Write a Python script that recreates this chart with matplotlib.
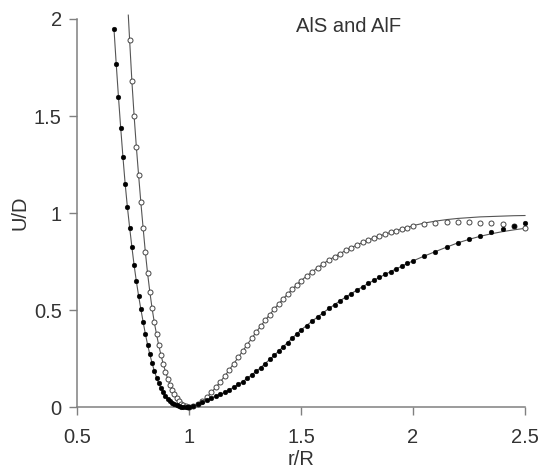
import matplotlib
matplotlib.use("Agg")
import matplotlib.pyplot as plt

plt.rcParams['font.family'] = ['Liberation Sans', 'DejaVu Sans']

# ---- data ----
# AlS (filled dots)
als_r = [0.665, 0.675, 0.685, 0.695, 0.705, 0.715, 0.725, 0.735, 0.745, 0.755,
         0.765, 0.775, 0.785, 0.795, 0.805, 0.815, 0.825, 0.835, 0.845, 0.855,
         0.865, 0.875, 0.885, 0.895, 0.905, 0.915, 0.925, 0.935, 0.945, 0.955,
         0.965, 0.975, 0.985, 0.995,
         1.00, 1.02, 1.04, 1.06, 1.08, 1.10, 1.12, 1.14, 1.16, 1.18,
         1.20, 1.22, 1.24, 1.26, 1.28, 1.30, 1.32, 1.34, 1.36, 1.38,
         1.40, 1.42, 1.44, 1.46, 1.48, 1.50,
         1.525, 1.55, 1.575, 1.60, 1.625, 1.65, 1.675, 1.70, 1.725, 1.75,
         1.775, 1.80, 1.825, 1.85, 1.875, 1.90, 1.925, 1.95, 1.975, 2.00,
         2.05, 2.10, 2.15, 2.20, 2.25, 2.30, 2.35, 2.40, 2.45, 2.50]
als_u = [1.95, 1.77, 1.60, 1.44, 1.29, 1.15, 1.03, 0.925, 0.825, 0.730,
         0.648, 0.573, 0.505, 0.440, 0.378, 0.322, 0.272, 0.227, 0.187, 0.152,
         0.122, 0.096, 0.075, 0.057, 0.043, 0.031, 0.022, 0.015, 0.009, 0.005,
         0.0025, 0.001, 0.0003, 0.0,
         0.000, 0.006, 0.015, 0.026, 0.037, 0.047, 0.056, 0.065, 0.076, 0.089,
         0.102, 0.116, 0.131, 0.148, 0.166, 0.184, 0.203, 0.224, 0.245, 0.266,
         0.288, 0.310, 0.332, 0.354, 0.376, 0.397,
         0.420, 0.443, 0.465, 0.487, 0.508, 0.528, 0.548, 0.567, 0.585, 0.603,
         0.620, 0.637, 0.653, 0.668, 0.683, 0.698, 0.712, 0.726, 0.740, 0.753,
         0.778, 0.801, 0.824, 0.846, 0.865, 0.883, 0.900, 0.915, 0.932, 0.950]
# AlS fitted curve: follows the dots, then this tail
als_fit_tail_r = [2.20, 2.25, 2.30, 2.35, 2.40, 2.45, 2.50]
als_fit_tail_u = [0.846, 0.864, 0.880, 0.893, 0.904, 0.913, 0.921]

# AlF (open circles)
alf_r = [0.735, 0.745, 0.755, 0.765, 0.775, 0.785, 0.795, 0.805, 0.815, 0.825,
         0.835, 0.845, 0.855, 0.865, 0.875, 0.885, 0.895, 0.905, 0.915, 0.925,
         0.935, 0.945, 0.955, 0.965, 0.975, 0.985, 0.995,
         1.00, 1.02, 1.04, 1.06, 1.08, 1.10, 1.12, 1.14, 1.16, 1.18,
         1.20, 1.22, 1.24, 1.26, 1.28, 1.30, 1.32, 1.34, 1.36, 1.38,
         1.40, 1.42, 1.44, 1.46, 1.48, 1.50,
         1.525, 1.55, 1.575, 1.60, 1.625, 1.65, 1.675, 1.70, 1.725, 1.75,
         1.775, 1.80, 1.825, 1.85, 1.875, 1.90, 1.925, 1.95, 1.975, 2.00,
         2.05, 2.10, 2.15, 2.20, 2.25, 2.30, 2.35, 2.40, 2.45, 2.50]
alf_u = [1.89, 1.68, 1.50, 1.34, 1.195, 1.055, 0.925, 0.800, 0.690, 0.595,
         0.510, 0.437, 0.375, 0.318, 0.267, 0.222, 0.182, 0.146, 0.115, 0.088,
         0.065, 0.046, 0.030, 0.018, 0.009, 0.003, 0.0005,
         0.000, 0.004, 0.015, 0.031, 0.051, 0.075, 0.102, 0.130, 0.160, 0.192,
         0.224, 0.256, 0.289, 0.322, 0.354, 0.386, 0.417, 0.447, 0.476, 0.504,
         0.531, 0.557, 0.582, 0.606, 0.629, 0.651,
         0.675, 0.697, 0.718, 0.739, 0.758, 0.775, 0.791, 0.807, 0.822, 0.835,
         0.848, 0.860, 0.871, 0.881, 0.891, 0.900, 0.909, 0.917, 0.924, 0.931,
         0.942, 0.949, 0.953, 0.954, 0.953, 0.950, 0.947, 0.943, 0.934, 0.921]
# AlF fitted curve: head above the axis top, dots, then this tail
alf_fit_head_r = [0.729]
alf_fit_head_u = [2.02]
alf_fit_tail_r = [2.00, 2.05, 2.10, 2.15, 2.20, 2.25, 2.30, 2.35, 2.40, 2.45, 2.50]
alf_fit_tail_u = [0.935, 0.948, 0.958, 0.966, 0.972, 0.976, 0.980, 0.982, 0.984, 0.986, 0.987]

x_ticks = [0.5, 1.0, 1.5, 2.0, 2.5]
x_tick_labels = ["0.5", "1", "1.5", "2", "2.5"]
y_ticks = [0.0, 0.5, 1.0, 1.5, 2.0]
y_tick_labels = ["0", "0.5", "1", "1.5", "2"]

# ---- figure ----
fig = plt.figure(figsize=(5.41, 4.73), dpi=100)
ax = fig.add_axes([77/541, 66/473, 448/541, 388/473])

als_fit_r = [r for r in als_r if r < als_fit_tail_r[0]] + als_fit_tail_r
als_fit_u = [u for r, u in zip(als_r, als_u) if r < als_fit_tail_r[0]] + als_fit_tail_u
alf_fit_r = alf_fit_head_r + [r for r in alf_r if r < alf_fit_tail_r[0]] + alf_fit_tail_r
alf_fit_u = alf_fit_head_u + [u for r, u in zip(alf_r, alf_u) if r < alf_fit_tail_r[0]] + alf_fit_tail_u

line_col = '#555555'
ax.plot(alf_fit_r, alf_fit_u, color=line_col, lw=0.8, clip_on=False, zorder=2)
ax.plot(als_fit_r, als_fit_u, color=line_col, lw=0.8, clip_on=False, zorder=2)
ax.plot(alf_r, alf_u, ls='none', marker='o', ms=3.6, mfc='white', mec='#444444',
        mew=0.7, clip_on=False, zorder=3)
ax.plot(als_r, als_u, ls='none', marker='o', ms=3.4, mfc='black', mec='black',
        mew=0.3, clip_on=False, zorder=4)

ax.set_xlim(0.5, 2.5)
ax.set_ylim(0, 2)
ax.set_xticks(x_ticks)
ax.set_xticklabels(x_tick_labels)
ax.set_yticks(y_ticks)
ax.set_yticklabels(y_tick_labels)

for s in ['top', 'right']:
    ax.spines[s].set_visible(False)
for s in ['left', 'bottom']:
    ax.spines[s].set_color('#808080')
    ax.spines[s].set_linewidth(1.1)
ax.tick_params(axis='both', direction='out', length=6, width=1.0, color='#808080',
               labelsize=14.5, labelcolor='#333333')
ax.tick_params(axis='x', pad=9)
ax.tick_params(axis='y', pad=5)

ax.set_xlabel('r/R', fontsize=14.5, color='#333333', labelpad=2)
ax.set_ylabel('U/D', fontsize=14.5, color='#333333', labelpad=3)
ax.text(1.478, 1.96, 'AlS and AlF', fontsize=14.5, color='#333333', ha='left', va='center')

fig.savefig('out.png', dpi=100)
